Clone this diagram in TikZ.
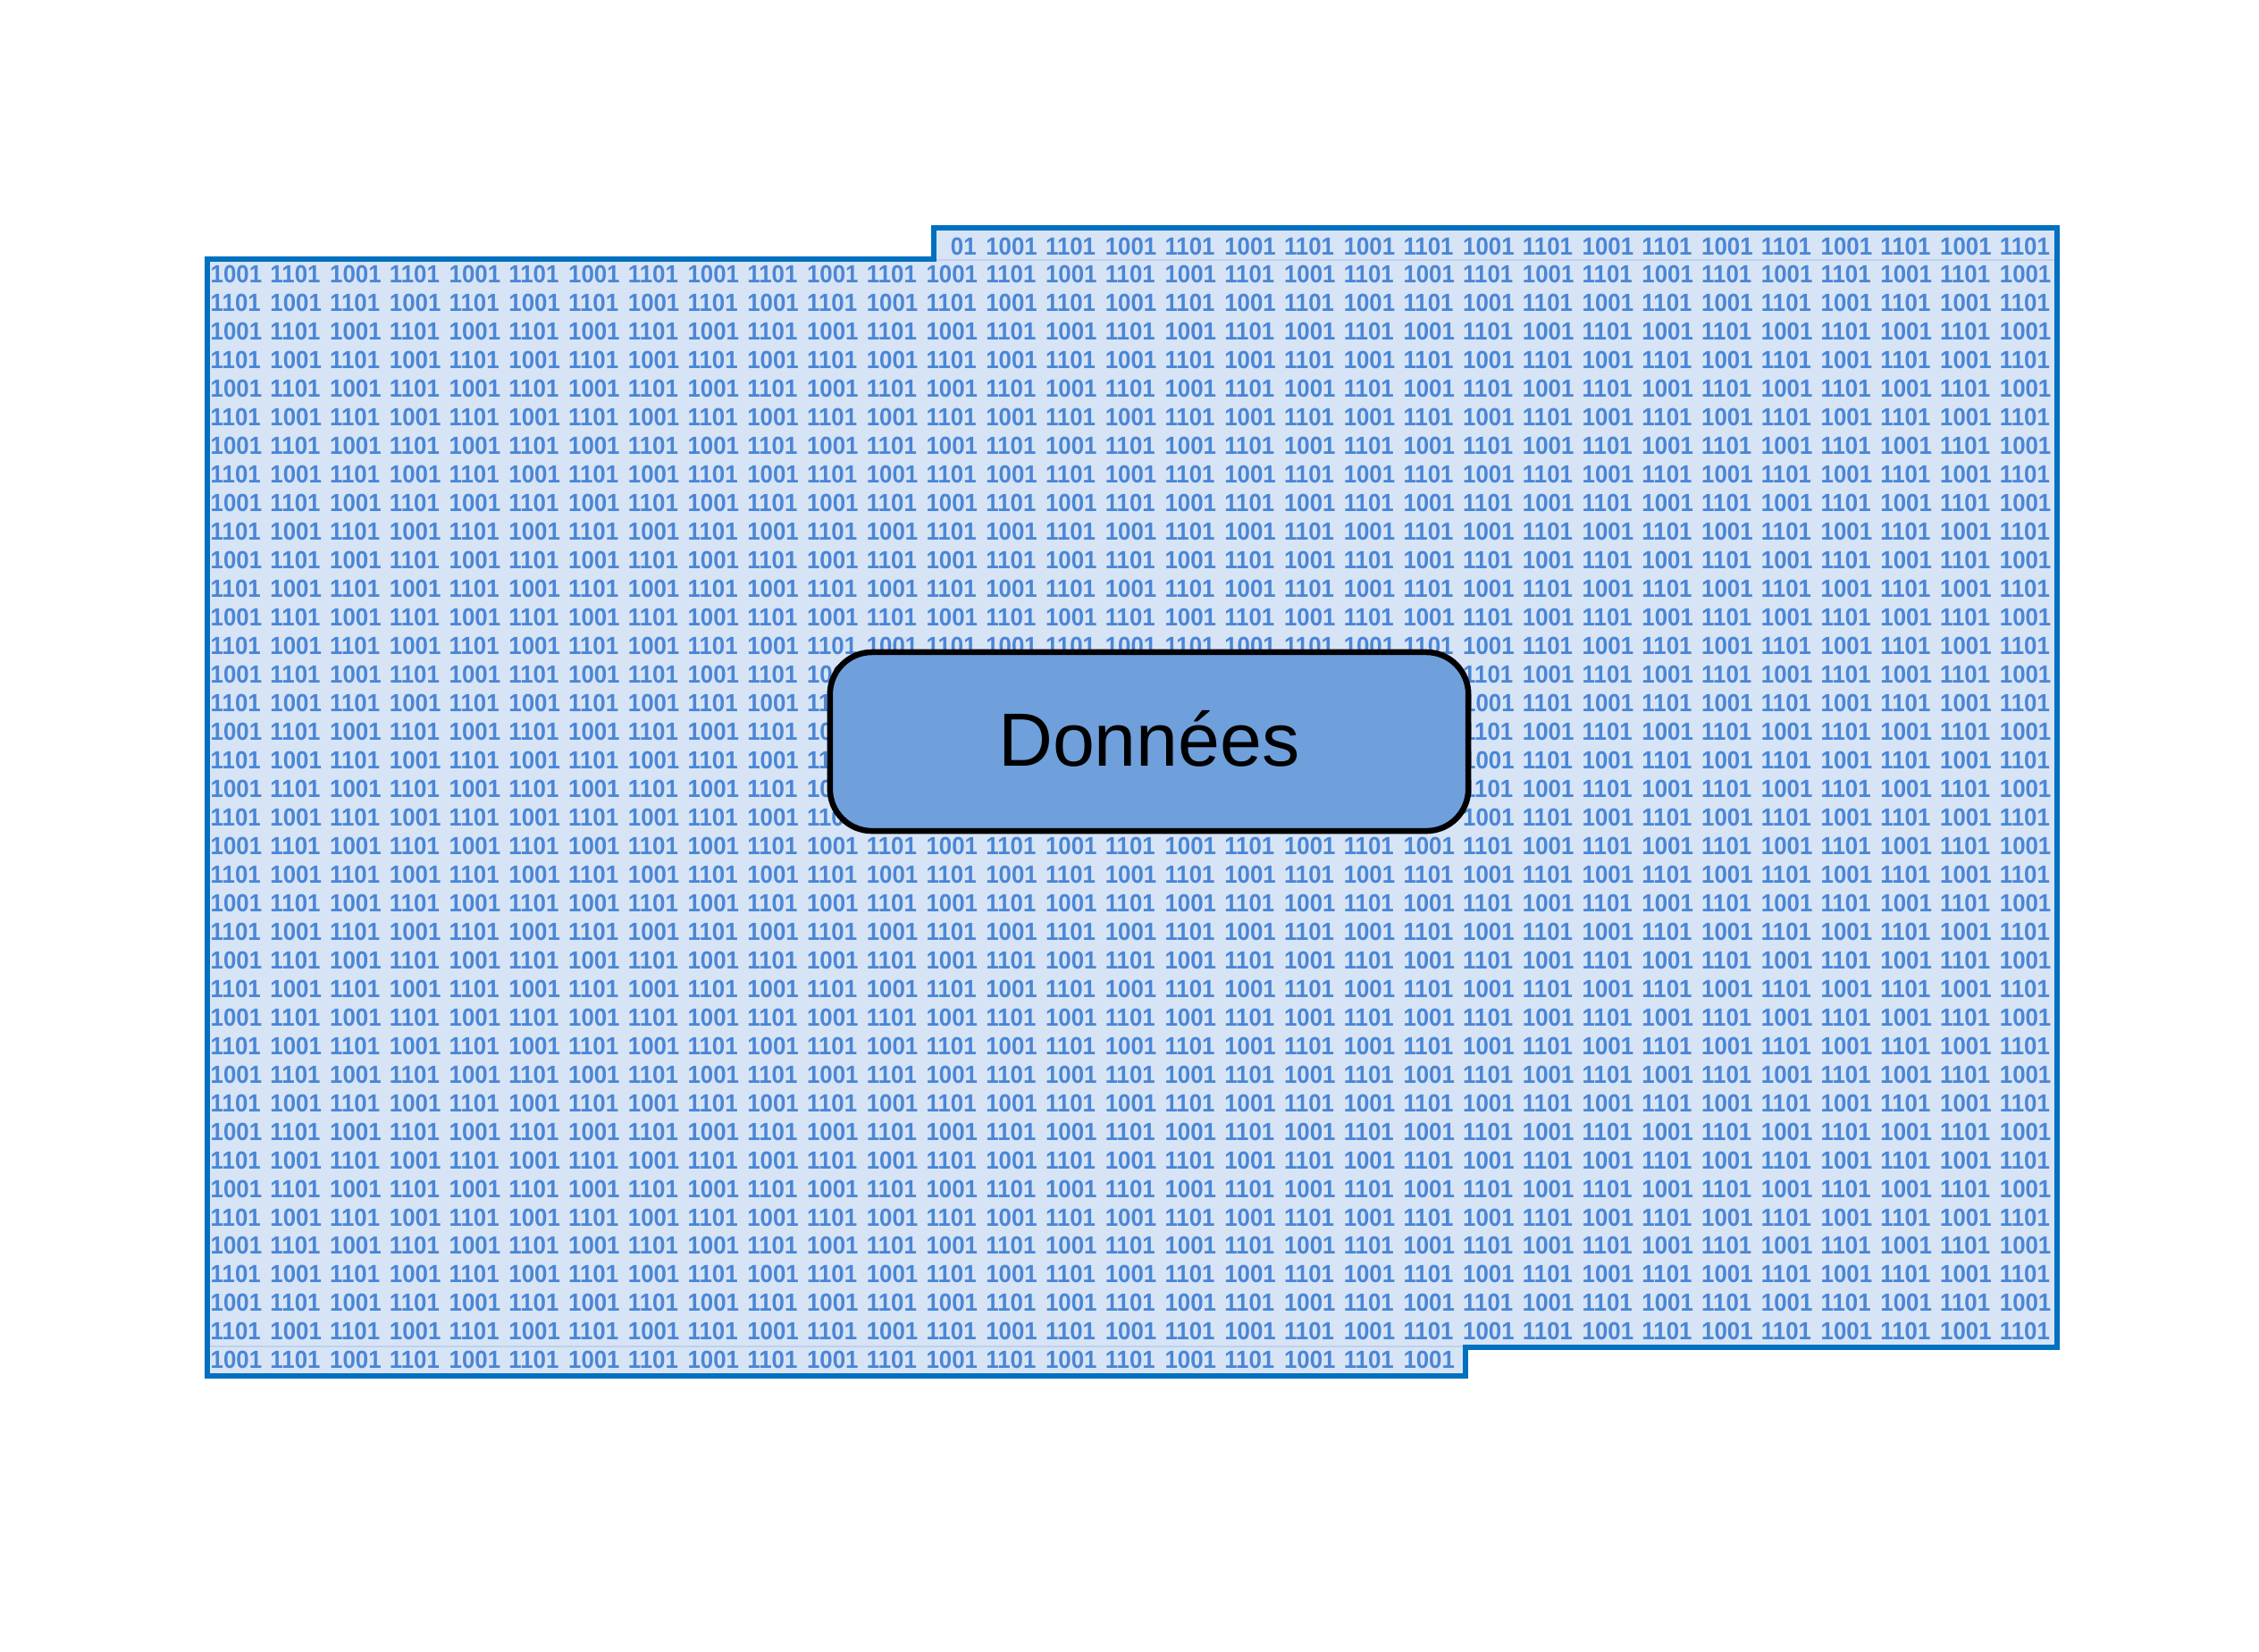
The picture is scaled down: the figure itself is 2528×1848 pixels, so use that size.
\documentclass[tikz,border=0pt]{standalone}
\usepackage{fontspec}
\usepackage{graphicx}
\setmainfont{Liberation Sans}
\definecolor{bgfill}{HTML}{D7E4F5}
\definecolor{bintext}{HTML}{4A86D6}
\definecolor{outl}{HTML}{0070C0}
\definecolor{boxfill}{HTML}{6FA0DC}
\definecolor{seam}{HTML}{BDD1EF}
\newcommand\tk[1]{\makebox[0.667cm][l]{\scalebox{0.93}[1]{#1}}}
\newcommand\pairA{\tk{1001}\tk{1101}}
\newcommand\pairB{\tk{1101}\tk{1001}}
\newcommand\rowA{\pairA\pairA\pairA\pairA\pairA\pairA\pairA\pairA\pairA\pairA\pairA\pairA\pairA\pairA\pairA\tk{1001}}
\newcommand\rowB{\pairB\pairB\pairB\pairB\pairB\pairB\pairB\pairB\pairB\pairB\pairB\pairB\pairB\pairB\pairB\tk{1101}}
\begin{document}
\begin{tikzpicture}[x=0.01cm,y=-0.01cm,
  bin/.style={anchor=base west,inner sep=0pt,text=bintext,font=\fontsize{7.9pt}{8pt}\selectfont\bfseries},
  datastore/.style={draw=outl,line width=0.06cm},
  seamline/.style={draw=seam,line width=0.02cm},
  databox/.style={draw=black,line width=0.065cm,fill=boxfill,rounded corners=0.47cm,minimum width=7.14cm,minimum height=2.0cm,inner sep=0pt,font=\fontsize{24pt}{28pt}\selectfont}]
\useasboundingbox (0,0) rectangle (2528,1848);
\fill[white] (0,0) rectangle (2528,1848);
\begin{scope}
  \clip (232,290) -- (1045,290) -- (1045,255) -- (2302,255) -- (2302,1508) -- (1640,1508) -- (1640,1540) -- (232,1540) -- cycle;
  \fill[bgfill] (0,0) rectangle (2528,1848);
  \foreach \i in {1,...,39}{
    \pgfmathsetmacro\yy{285+31.97*\i}
    \ifodd\i
      \node[bin] (row\i) at (235,\yy) {\rowA};
    \else
      \node[bin] (row\i) at (235,\yy) {\rowB};
    \fi
  }
  \begin{scope}
    \clip (1064,250) rectangle (2310,290);
    \node[bin] (row0) at (235,285) {\rowB};
  \end{scope}
  \draw[seamline] (1045,291) -- (2302,291);
  \draw[seamline] (232,1507) -- (1640,1507);
\end{scope}
\draw[datastore] (232,290) -- (1045,290) -- (1045,255) -- (2302,255) -- (2302,1508) -- (1640,1508) -- (1640,1540) -- (232,1540) -- cycle;
\node[databox] (data) at (1286,830) {\raisebox{2pt}{Données}};
\end{tikzpicture}
\end{document}
